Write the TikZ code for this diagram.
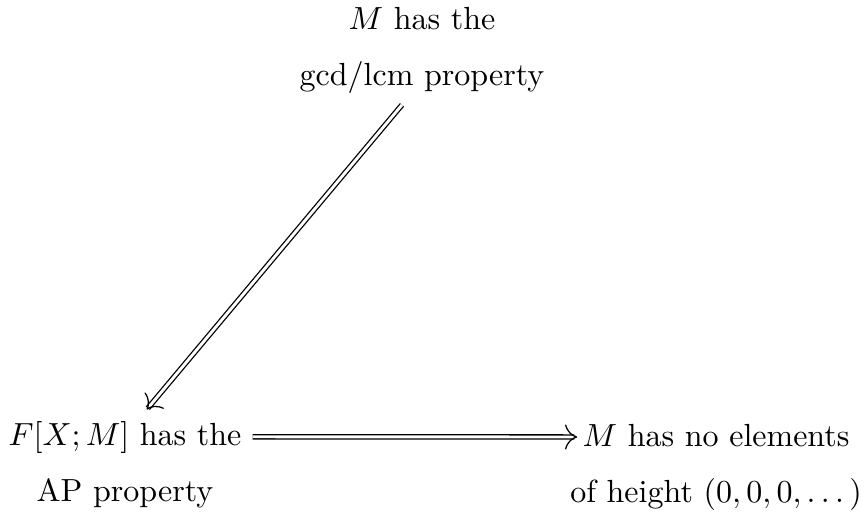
\documentclass[tikz,border=0pt]{standalone}
\usepackage{amsmath}
\usepackage{amssymb}
\usepackage{tikz}
\usetikzlibrary{arrows.meta,positioning,calc,decorations.markings}

\begin{document}
\begin{tikzpicture}[
    prop/.style={align=center, inner sep=3.33pt},
    imp/.style={double, double distance=0.9pt, thin, shorten >=0.9pt,
      decoration={markings, mark=at position 1 with {\arrow[/utils/exec={\pgfsetinnerlinewidth{0pt}}, line width=0.4pt]{Computer Modern Rightarrow[length=3.8pt, width=7.8pt]}}},
      postaction={decorate}}
]
\useasboundingbox (0,0) rectangle (9.511,5.645);
\node[prop] (gcd) at (4.635,5.091) {$M$ has the\\[5.5pt] gcd/lcm property};
\node[prop] (ap)  at (1.373,0.538) {$F[X;M]$ has the\\[5.5pt] AP property};
\node[prop] (noh) at (7.864,0.516) {$M$ has no elements\\[5.5pt] of height $(0,0,0,\dots)$};
\draw[imp] ([xshift=-0.22cm]gcd.south) -- ([xshift=0.23cm]ap.north);
\draw[imp] ([yshift=0.31cm]ap.east) -- ([xshift=0.2cm,yshift=0.33cm]noh.west);
\end{tikzpicture}
\end{document}
